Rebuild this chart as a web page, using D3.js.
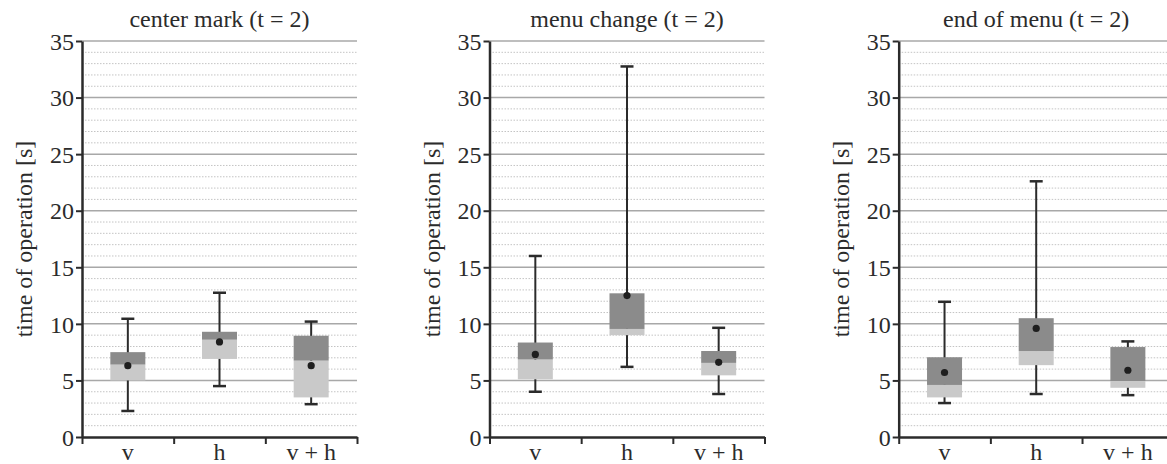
<!DOCTYPE html>
<html>
<head>
<meta charset="utf-8">
<script src="https://cdn.jsdelivr.net/npm/d3@7"></script>
<style>
  html, body { margin: 0; padding: 0; background: #fff; }
  svg { display: block; }
</style>
</head>
<body>
<svg id="chart" width="1167" height="464"></svg>
<script>
// ---- data ----
const panelTitles = ["center mark (t = 2)", "menu change (t = 2)", "end of menu (t = 2)"];
const categories = ["v", "h", "v + h"];
const yTickValues = [0, 5, 10, 15, 20, 25, 30, 35];
const yLabel = "time of operation [s]";

// per panel, per category
const whiskerLow  = [[2.3, 4.5, 2.9], [4.0, 6.2, 3.8], [3.0, 3.8, 3.7]];
const q1          = [[5.0, 6.9, 3.5], [5.1, 9.0, 5.45], [3.5, 6.35, 4.35]];
const median      = [[6.4, 8.6, 6.75], [6.85, 9.55, 6.55], [4.6, 7.6, 4.95]];
const q3          = [[7.5, 9.3, 8.95], [8.35, 12.7, 7.6], [7.05, 10.5, 7.95]];
const whiskerHigh = [[10.45, 12.75, 10.2], [16.0, 32.75, 9.65], [11.95, 22.6, 8.45]];
const meanVal     = [[6.3, 8.4, 6.3], [7.3, 12.5, 6.6], [5.7, 9.6, 5.9]];

// ---- layout ----
const FONT = "'Liberation Serif', 'Times New Roman', Tinos, 'DejaVu Serif', 'Noto Serif', serif";
const svg = d3.select("#chart");
const panelX = [82, 489.5, 898.7];
const plotW = 275, plotTop = 41, plotH = 396;
const boxW = 35, capW = 13;
const darkC = "#8b8b8b", lightC = "#c9c9c9", inkC = "#2b2b2b", textC = "#2b2b2b";

const y = d3.scaleLinear().domain([0, 35]).range([plotH, 0]);
const x = d3.scaleBand().domain(categories).range([0, plotW]).padding(0);
const xEdge = d3.scaleLinear().domain([0, categories.length]).range([0, plotW]);

panelTitles.forEach((title, p) => {
  const g = svg.append("g").attr("transform", `translate(${panelX[p]},${plotTop})`);

  // minor dotted grid every 1
  const minor = d3.range(1, 35).filter(v => v % 5 !== 0);
  g.selectAll(".minor").data(minor).enter().append("line")
    .attr("x1", 0).attr("x2", plotW)
    .attr("y1", d => y(d)).attr("y2", d => y(d))
    .attr("stroke", "#c4c4c4").attr("stroke-width", 1)
    .attr("stroke-dasharray", "1.5,1.5");
  // major grid every 5
  g.selectAll(".major").data(yTickValues.filter(v => v > 0)).enter().append("line")
    .attr("x1", 0).attr("x2", plotW)
    .attr("y1", d => y(d)).attr("y2", d => y(d))
    .attr("stroke", "#a8a8a8").attr("stroke-width", 1.5);

  const data = categories.map((c, i) => ({
    c, lo: whiskerLow[p][i], q1: q1[p][i], med: median[p][i],
    q3: q3[p][i], hi: whiskerHigh[p][i], mean: meanVal[p][i]
  }));
  const cx = d => x(d.c) + x.bandwidth() / 2;

  // whiskers
  g.selectAll(".wh").data(data).enter().append("line")
    .attr("x1", cx).attr("x2", cx)
    .attr("y1", d => y(d.hi)).attr("y2", d => y(d.lo))
    .attr("stroke", inkC).attr("stroke-width", 2);
  g.selectAll(".capH").data(data).enter().append("line")
    .attr("x1", d => cx(d) - capW / 2).attr("x2", d => cx(d) + capW / 2)
    .attr("y1", d => y(d.hi)).attr("y2", d => y(d.hi))
    .attr("stroke", inkC).attr("stroke-width", 2.5);
  g.selectAll(".capL").data(data).enter().append("line")
    .attr("x1", d => cx(d) - capW / 2).attr("x2", d => cx(d) + capW / 2)
    .attr("y1", d => y(d.lo)).attr("y2", d => y(d.lo))
    .attr("stroke", inkC).attr("stroke-width", 2.5);

  // lower box (q1-median) light
  g.selectAll(".boxL").data(data).enter().append("rect")
    .attr("x", d => cx(d) - boxW / 2).attr("width", boxW)
    .attr("y", d => y(d.med)).attr("height", d => y(d.q1) - y(d.med))
    .attr("fill", lightC);
  // upper box (median-q3) dark
  g.selectAll(".boxU").data(data).enter().append("rect")
    .attr("x", d => cx(d) - boxW / 2).attr("width", boxW)
    .attr("y", d => y(d.q3)).attr("height", d => y(d.med) - y(d.q3))
    .attr("fill", darkC);
  // mean
  g.selectAll(".mean").data(data).enter().append("circle")
    .attr("cx", cx).attr("cy", d => y(d.mean)).attr("r", 3.6)
    .attr("fill", "#1e1e1e");

  // y axis
  const ya = g.append("g").call(d3.axisLeft(y).tickValues(yTickValues).tickSize(6).tickSizeOuter(0).tickPadding(2));
  ya.attr("font-family", null).attr("font-size", null);
  ya.select(".domain").attr("stroke", inkC).attr("stroke-width", 2.5);
  ya.selectAll(".tick line").attr("stroke", inkC).attr("stroke-width", 2);
  ya.selectAll(".tick text").style("font-family", FONT).style("font-size", "24px")
    .attr("fill", textC).attr("dy", "0.34em");

  // x axis (boundary ticks)
  const xa = g.append("g").attr("transform", `translate(0,${plotH})`)
    .call(d3.axisBottom(xEdge).tickValues(d3.range(0, categories.length + 1)).tickFormat("").tickSize(7).tickSizeOuter(0));
  xa.select(".domain").attr("stroke", inkC).attr("stroke-width", 2.5);
  xa.selectAll(".tick line").attr("stroke", inkC).attr("stroke-width", 2);

  // category labels via band scale axis
  const xl = g.append("g").attr("transform", `translate(0,${plotH})`)
    .call(d3.axisBottom(x).tickSize(0).tickPadding(6));
  xl.attr("font-family", null).attr("font-size", null);
  xl.select(".domain").remove();
  xl.selectAll(".tick text").style("font-family", FONT).style("font-size", "24px")
    .attr("fill", textC);

  // title
  g.append("text").attr("x", plotW / 2).attr("y", 27 - plotTop)
    .attr("text-anchor", "middle")
    .style("font-family", FONT).style("font-size", "24px")
    .attr("fill", textC).text(title);

  // y label
  g.append("text")
    .attr("transform", `translate(-58,${plotH / 2}) rotate(-90)`)
    .attr("text-anchor", "middle").attr("dy", "0.35em")
    .style("font-family", FONT).style("font-size", "24px")
    .attr("fill", textC).text(yLabel);
});
</script>
</body>
</html>
